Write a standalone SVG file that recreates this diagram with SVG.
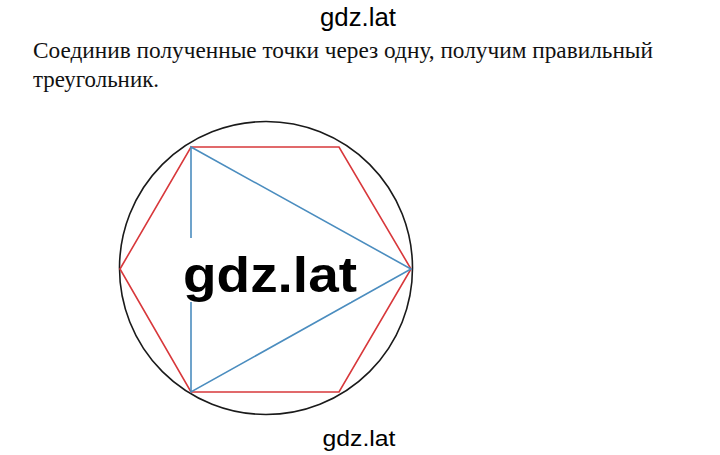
<svg xmlns="http://www.w3.org/2000/svg" width="720" height="455" viewBox="0 0 720 455">
<style>
.wm{font-family:"Liberation Sans",Arial,sans-serif;fill:#000}
.txt{font-family:"Liberation Serif","Times New Roman",serif;font-size:23px;fill:#111}
.circ{fill:none;stroke:#1a1a1a;stroke-width:1.6}
.hex{fill:none;stroke:#d8383b;stroke-width:1.6;stroke-linejoin:miter}
.tri{fill:none;stroke:#4b8dbf;stroke-width:1.6}
</style>
<rect width="720" height="455" fill="#fff"/>
<text class="wm" x="358" y="26" font-size="26" text-anchor="middle" textLength="76" lengthAdjust="spacingAndGlyphs">gdz.lat</text>
<text class="txt" x="33" y="58" textLength="620" lengthAdjust="spacingAndGlyphs">Соединив полученные точки через одну, получим правильный</text>
<text class="txt" x="33" y="87" textLength="126" lengthAdjust="spacingAndGlyphs">треугольник.</text>
<g id="circle"><circle class="circ" cx="266" cy="268" r="146.5"/></g>
<g id="hexagon"><polygon class="hex" points="120,269 191,147 339,147 411,269 339,392 191,392"/></g>
<g id="triangle"><polygon class="tri" points="191,147 411,269 191,392"/></g>
<rect x="175" y="238" width="176" height="64" fill="#fff"/>
<text class="wm" x="183" y="292" font-size="50" font-weight="bold" textLength="174" lengthAdjust="spacingAndGlyphs">gdz.lat</text>
<text class="wm" x="359" y="446" font-size="22" text-anchor="middle" textLength="73" lengthAdjust="spacingAndGlyphs">gdz.lat</text>
</svg>
